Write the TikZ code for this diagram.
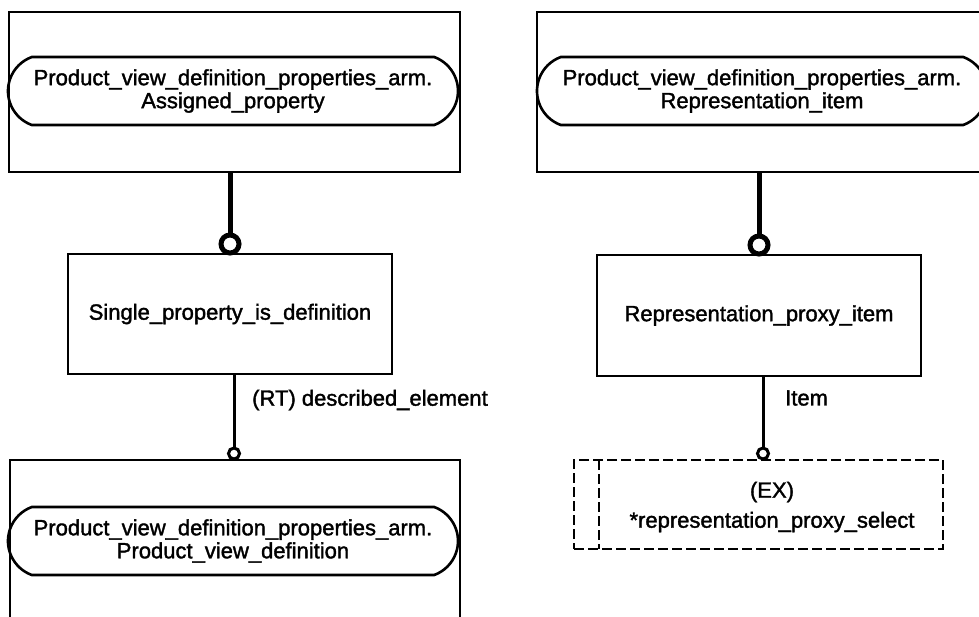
\documentclass[tikz,border=0pt]{standalone}
\usepackage{fontspec}
\setmainfont{Liberation Sans}[BoldFont=Liberation Sans, BoldFeatures={FakeBold=1.6}]
\usetikzlibrary{shapes.misc}
\begin{document}
\begin{tikzpicture}[x=1pt,y=-1pt,
  every node/.style={font=\fontsize{22}{23}\selectfont\bfseries},
  ent/.style={draw, rectangle, line width=2.6pt, inner sep=0pt, outer sep=0pt},
  capsule/.style={draw, rounded rectangle, rounded rectangle arc length=140, line width=2.6pt, inner sep=0pt, outer sep=0pt, align=center},
  selbox/.style={draw, rectangle, line width=2.6pt, dash pattern=on 10pt off 4pt, inner sep=0pt, outer sep=0pt},
  bigring/.style={draw, circle, line width=5pt, minimum size=18pt, inner sep=0pt, outer sep=0pt, fill=white},
  smallring/.style={draw, circle, line width=3pt, minimum size=11pt, inner sep=0pt, outer sep=0pt, fill=white},
  thickrel/.style={line width=5pt},
  thinrel/.style={line width=3pt},
  lbl/.style={anchor=west, inner sep=0pt}
]
\path[use as bounding box] (0,0) rectangle (979,616);
\clip (0,0) rectangle (979,616);

% top left entity
\node[ent, minimum width=451pt, minimum height=160pt] (tl) at (234.5,92) {};
\node[capsule, minimum width=450pt, minimum height=68pt] (tlc) at (233,91)
  {Product\_view\_definition\_properties\_arm.\\Assigned\_property};

% top right entity
\node[ent, minimum width=463pt, minimum height=160pt] (tr) at (768.5,92) {};
\node[capsule, minimum width=450pt, minimum height=68pt] (trc) at (762,91)
  {Product\_view\_definition\_properties\_arm.\\Representation\_item};

% middle entities
\node[ent, minimum width=324pt, minimum height=120pt] (ml) at (230,314) {Single\_property\_is\_definition};
\node[ent, minimum width=324pt, minimum height=121pt] (mr) at (759,315.5) {Representation\_proxy\_item};

% bottom left entity
\node[ent, minimum width=450pt, minimum height=180pt] (bl) at (235,550) {};
\node[capsule, minimum width=450pt, minimum height=68pt] (blc) at (233,541)
  {Product\_view\_definition\_properties\_arm.\\Product\_view\_definition};

% bottom right select
\node[selbox, minimum width=369pt, minimum height=89pt] (br) at (758.5,504.5) {};
\coordinate (brin) at (599,460);
\draw[line width=2.6pt, dash pattern=on 10pt off 4pt] (brin) -- (brin |- br.south);
\node[align=center, inner sep=0pt, font=\fontsize{22}{30}\selectfont\bfseries] (brt) at (772,507)
  {(EX)\\*representation\_proxy\_select};

% rings
\node[bigring] (r1) at (230,244) {};
\node[bigring] (r2) at (759,245) {};
\node[smallring] (s1) at (234,453.5) {};
\node[smallring] (s2) at (763,453.5) {};

% connectors
\draw[thickrel] (r1 |- tl.south) -- (r1.north);
\draw[thickrel] (r2 |- tr.south) -- (r2.north);
\draw[thinrel] (s1 |- ml.south) -- (s1.north);
\draw[thinrel] (s2 |- mr.south) -- (s2.north);

% labels
\node[lbl] (l1) at (252,400) {(RT) described\_element};
\node[lbl] (l2) at (785,398) {Item};
\end{tikzpicture}
\end{document}
